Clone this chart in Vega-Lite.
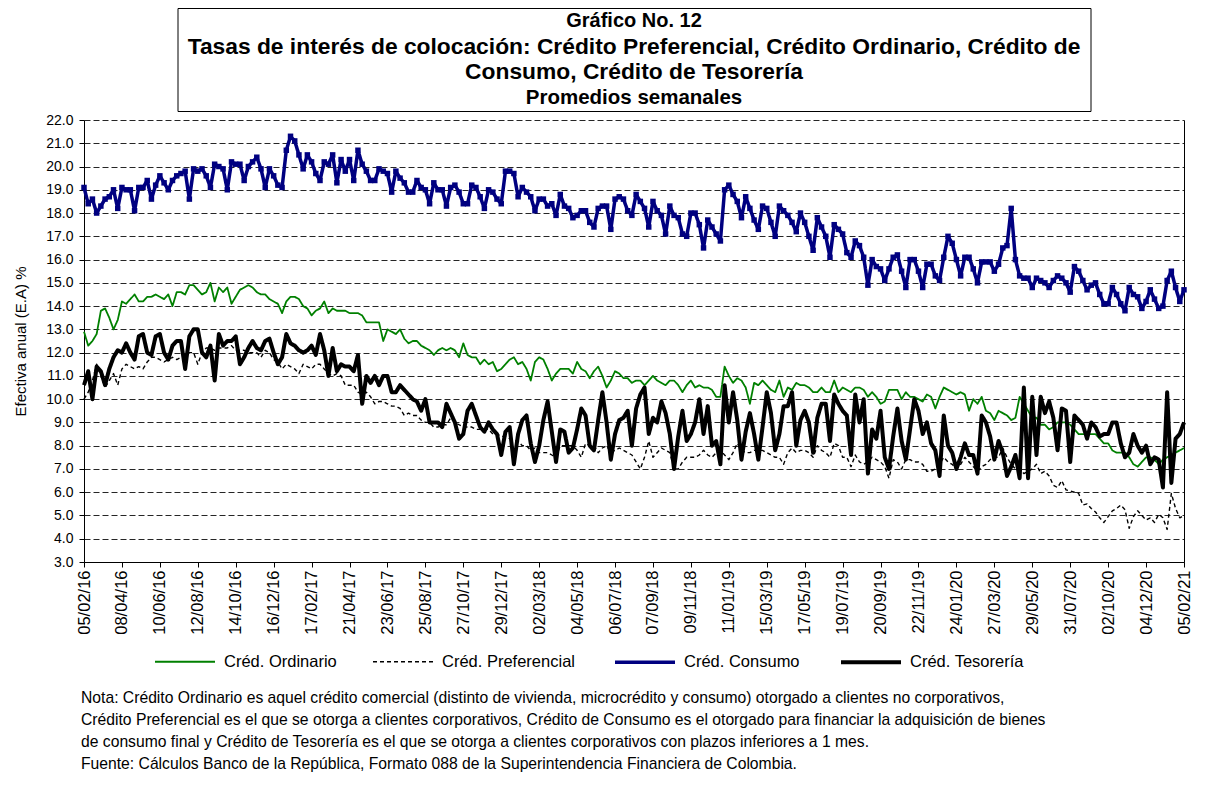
{
"$schema": "https://vega.github.io/schema/vega-lite/v6.json",
"background": "white",
"padding": {"left": 13, "top": 7, "right": 30, "bottom": 5},
"config": {"font": "Liberation Sans", "view": {"stroke": null}},
"spacing": 9,
"bounds": "flush",
"center": true,
"title": {"text": ["Nota: Crédito Ordinario es aquel crédito comercial (distinto de vivienda, microcrédito y consumo) otorgado a clientes no corporativos,", "Crédito Preferencial es el que se otorga a clientes corporativos, Crédito de Consumo es el otorgado para financiar la adquisición de bienes", "de consumo final  y Crédito de Tesorería es el que se otorga a clientes corporativos con plazos inferiores a 1 mes.", "Fuente: Cálculos Banco de la República, Formato 088 de la Superintendencia Financiera de Colombia."], "orient": "bottom", "anchor": "start", "frame": "group", "fontSize": 15.7, "fontWeight": "normal", "font": "Liberation Sans", "color": "black", "lineHeight": 22, "offset": 20, "align": "left", "dx": -3},
"vconcat": [
{
"width": 913, "height": 103,
"view": {"stroke": "black", "strokeWidth": 1},
"data": {"values": [{"line": 1, "txt": "Gráfico No. 12"}, {"line": 2, "txt": "Tasas de interés de colocación: Crédito Preferencial, Crédito Ordinario, Crédito de"}, {"line": 3, "txt": "Consumo, Crédito de Tesorería"}, {"line": 4, "txt": "Promedios semanales"}]},
"mark": {"type": "text", "fontWeight": "bold", "font": "Liberation Sans", "align": "center", "baseline": "middle", "color": "black"},
"encoding": {
"y": {"field": "line", "type": "ordinal", "axis": null, "scale": {"paddingInner": 0, "paddingOuter": 0}},
"x": {"datum": 0, "type": "quantitative", "scale": {"domain": [-1, 1]}, "axis": null},
"text": {"field": "txt"},
"yOffset": {"condition": {"test": "datum.line > 1", "value": 2.5}, "value": 0},
"size": {"condition": [{"test": "datum.line == 1", "value": 20}, {"test": "datum.line == 4", "value": 20.5}], "value": 22.8}
}
},
{
"width": 1100, "height": 442,
"data": {"format": {"parse": {"d": "utc:'%Y-%m-%d'"}}, "values": [
{"d":"2016-02-05","o":12.9,"p":10.0,"c":19.1,"t":10.6},
{"d":"2016-02-12","o":12.3,"p":10.3,"c":18.4,"t":11.2},
{"d":"2016-02-19","o":12.5,"p":10.8,"c":18.6,"t":10.0},
{"d":"2016-02-26","o":12.8,"p":11.5,"c":18.0,"t":11.4},
{"d":"2016-03-04","o":13.8,"p":11.0,"c":18.3,"t":11.2},
{"d":"2016-03-11","o":13.9,"p":10.5,"c":18.6,"t":10.6},
{"d":"2016-03-18","o":13.5,"p":10.8,"c":18.7,"t":11.3},
{"d":"2016-03-25","o":13.0,"p":11.1,"c":19.0,"t":11.8},
{"d":"2016-04-01","o":13.4,"p":10.6,"c":18.2,"t":12.1},
{"d":"2016-04-08","o":14.2,"p":11.3,"c":19.1,"t":12.0},
{"d":"2016-04-15","o":14.1,"p":11.5,"c":19.0,"t":12.4},
{"d":"2016-04-22","o":14.3,"p":11.4,"c":19.0,"t":12.0},
{"d":"2016-04-29","o":14.5,"p":11.3,"c":18.1,"t":11.7},
{"d":"2016-05-06","o":14.2,"p":11.4,"c":19.1,"t":12.7},
{"d":"2016-05-13","o":14.2,"p":11.3,"c":19.1,"t":12.8},
{"d":"2016-05-20","o":14.4,"p":11.6,"c":19.4,"t":12.0},
{"d":"2016-05-27","o":14.4,"p":11.8,"c":18.6,"t":11.9},
{"d":"2016-06-03","o":14.5,"p":11.8,"c":19.2,"t":12.7},
{"d":"2016-06-10","o":14.4,"p":11.7,"c":19.6,"t":12.8},
{"d":"2016-06-17","o":14.3,"p":11.6,"c":19.3,"t":12.0},
{"d":"2016-06-24","o":14.5,"p":11.7,"c":19.0,"t":11.7},
{"d":"2016-07-01","o":14.0,"p":11.8,"c":19.4,"t":12.3},
{"d":"2016-07-08","o":14.6,"p":11.7,"c":19.6,"t":12.5},
{"d":"2016-07-15","o":14.6,"p":11.8,"c":19.7,"t":12.5},
{"d":"2016-07-22","o":14.5,"p":11.9,"c":19.8,"t":11.3},
{"d":"2016-07-29","o":14.9,"p":12.0,"c":18.6,"t":12.7},
{"d":"2016-08-05","o":14.9,"p":12.0,"c":19.9,"t":13.0},
{"d":"2016-08-12","o":14.7,"p":11.5,"c":19.8,"t":13.0},
{"d":"2016-08-19","o":14.5,"p":12.0,"c":19.9,"t":12.0},
{"d":"2016-08-26","o":14.6,"p":12.2,"c":19.6,"t":11.8},
{"d":"2016-09-02","o":15.0,"p":12.2,"c":19.1,"t":12.3},
{"d":"2016-09-09","o":14.2,"p":12.1,"c":20.1,"t":10.8},
{"d":"2016-09-16","o":14.8,"p":12.2,"c":20.0,"t":12.8},
{"d":"2016-09-23","o":14.6,"p":12.2,"c":19.9,"t":12.3},
{"d":"2016-09-30","o":14.8,"p":12.2,"c":19.0,"t":12.5},
{"d":"2016-10-07","o":14.1,"p":12.3,"c":20.2,"t":12.5},
{"d":"2016-10-14","o":14.4,"p":12.1,"c":20.1,"t":12.7},
{"d":"2016-10-21","o":14.7,"p":12.1,"c":20.1,"t":11.5},
{"d":"2016-10-28","o":14.8,"p":12.1,"c":19.4,"t":11.8},
{"d":"2016-11-04","o":14.9,"p":12.0,"c":20.0,"t":12.2},
{"d":"2016-11-11","o":14.8,"p":12.0,"c":20.2,"t":12.5},
{"d":"2016-11-18","o":14.6,"p":12.0,"c":20.4,"t":12.2},
{"d":"2016-11-25","o":14.5,"p":11.8,"c":19.9,"t":12.1},
{"d":"2016-12-02","o":14.5,"p":12.1,"c":19.1,"t":12.5},
{"d":"2016-12-09","o":14.3,"p":12.0,"c":19.9,"t":12.6},
{"d":"2016-12-16","o":14.2,"p":11.7,"c":19.6,"t":12.0},
{"d":"2016-12-23","o":14.1,"p":11.6,"c":19.2,"t":11.5},
{"d":"2016-12-30","o":13.7,"p":11.3,"c":19.1,"t":11.8},
{"d":"2017-01-06","o":14.2,"p":11.5,"c":20.7,"t":12.8},
{"d":"2017-01-13","o":14.4,"p":11.4,"c":21.3,"t":12.4},
{"d":"2017-01-20","o":14.4,"p":11.3,"c":21.1,"t":12.3},
{"d":"2017-01-27","o":14.3,"p":11.1,"c":20.5,"t":12.1},
{"d":"2017-02-03","o":14.0,"p":11.5,"c":19.9,"t":12.0},
{"d":"2017-02-10","o":13.9,"p":11.4,"c":20.5,"t":12.1},
{"d":"2017-02-17","o":13.6,"p":11.3,"c":20.2,"t":12.3},
{"d":"2017-02-24","o":13.8,"p":11.5,"c":19.7,"t":11.9},
{"d":"2017-03-03","o":13.9,"p":11.5,"c":19.4,"t":12.8},
{"d":"2017-03-10","o":14.2,"p":11.3,"c":20.2,"t":12.1},
{"d":"2017-03-17","o":13.7,"p":11.1,"c":20.1,"t":11.0},
{"d":"2017-03-24","o":13.9,"p":11.0,"c":20.5,"t":12.2},
{"d":"2017-03-31","o":13.8,"p":11.1,"c":19.3,"t":11.2},
{"d":"2017-04-07","o":13.8,"p":11.0,"c":20.3,"t":11.5},
{"d":"2017-04-14","o":13.8,"p":10.6,"c":19.8,"t":11.4},
{"d":"2017-04-21","o":13.7,"p":10.6,"c":20.3,"t":11.4},
{"d":"2017-04-28","o":13.7,"p":10.6,"c":19.4,"t":11.2},
{"d":"2017-05-05","o":13.7,"p":10.3,"c":20.7,"t":11.9},
{"d":"2017-05-12","o":13.6,"p":10.2,"c":20.1,"t":9.8},
{"d":"2017-05-19","o":13.3,"p":10.3,"c":19.8,"t":11.0},
{"d":"2017-05-26","o":13.3,"p":10.1,"c":19.4,"t":10.7},
{"d":"2017-06-02","o":13.3,"p":9.8,"c":19.4,"t":11.0},
{"d":"2017-06-09","o":13.3,"p":9.9,"c":19.9,"t":10.6},
{"d":"2017-06-16","o":12.5,"p":9.9,"c":19.8,"t":11.0},
{"d":"2017-06-23","o":13.0,"p":9.8,"c":19.7,"t":11.0},
{"d":"2017-06-30","o":12.9,"p":9.7,"c":18.9,"t":10.3},
{"d":"2017-07-07","o":12.8,"p":9.7,"c":19.8,"t":10.3},
{"d":"2017-07-14","o":13.0,"p":9.6,"c":19.5,"t":10.6},
{"d":"2017-07-21","o":12.6,"p":9.3,"c":19.3,"t":10.4},
{"d":"2017-07-28","o":12.4,"p":9.4,"c":18.9,"t":10.2},
{"d":"2017-08-04","o":12.5,"p":9.3,"c":18.9,"t":10.0},
{"d":"2017-08-11","o":12.5,"p":9.3,"c":19.4,"t":9.9},
{"d":"2017-08-18","o":12.3,"p":9.1,"c":19.1,"t":9.5},
{"d":"2017-08-25","o":12.2,"p":9.0,"c":19.0,"t":10.0},
{"d":"2017-09-01","o":12.1,"p":9.0,"c":18.4,"t":9.0},
{"d":"2017-09-08","o":11.9,"p":8.8,"c":19.3,"t":9.0},
{"d":"2017-09-15","o":12.1,"p":8.8,"c":19.0,"t":9.0},
{"d":"2017-09-22","o":12.2,"p":8.9,"c":19.0,"t":8.8},
{"d":"2017-09-29","o":12.1,"p":8.9,"c":18.3,"t":9.8},
{"d":"2017-10-06","o":12.2,"p":9.2,"c":19.1,"t":9.4},
{"d":"2017-10-13","o":12.1,"p":9.0,"c":19.2,"t":9.0},
{"d":"2017-10-20","o":11.8,"p":8.9,"c":18.9,"t":8.3},
{"d":"2017-10-27","o":12.4,"p":8.8,"c":18.4,"t":8.5},
{"d":"2017-11-03","o":11.9,"p":8.8,"c":18.4,"t":9.5},
{"d":"2017-11-10","o":11.8,"p":8.8,"c":19.2,"t":9.8},
{"d":"2017-11-17","o":11.8,"p":8.7,"c":19.1,"t":9.3},
{"d":"2017-11-24","o":11.5,"p":8.7,"c":18.7,"t":8.8},
{"d":"2017-12-01","o":11.7,"p":8.7,"c":18.2,"t":8.6},
{"d":"2017-12-08","o":11.5,"p":8.7,"c":19.0,"t":9.0},
{"d":"2017-12-15","o":11.6,"p":8.5,"c":18.9,"t":8.7},
{"d":"2017-12-22","o":11.2,"p":8.5,"c":18.6,"t":8.5},
{"d":"2017-12-29","o":11.3,"p":8.4,"c":18.4,"t":7.6},
{"d":"2018-01-05","o":11.5,"p":8.4,"c":19.8,"t":8.6},
{"d":"2018-01-12","o":11.7,"p":8.3,"c":19.8,"t":8.8},
{"d":"2018-01-19","o":11.8,"p":8.2,"c":19.7,"t":7.2},
{"d":"2018-01-26","o":11.5,"p":8.2,"c":18.7,"t":8.5},
{"d":"2018-02-02","o":11.6,"p":8.0,"c":19.1,"t":9.1},
{"d":"2018-02-09","o":11.3,"p":8.0,"c":18.9,"t":9.3},
{"d":"2018-02-16","o":10.8,"p":7.8,"c":18.7,"t":8.1},
{"d":"2018-02-23","o":11.6,"p":7.9,"c":18.1,"t":7.3},
{"d":"2018-03-02","o":11.8,"p":7.7,"c":18.6,"t":8.0},
{"d":"2018-03-09","o":11.7,"p":7.7,"c":18.6,"t":9.1},
{"d":"2018-03-16","o":11.3,"p":7.7,"c":18.3,"t":9.9},
{"d":"2018-03-23","o":10.8,"p":7.6,"c":18.4,"t":8.6},
{"d":"2018-03-30","o":11.1,"p":7.5,"c":17.9,"t":7.3},
{"d":"2018-04-06","o":11.3,"p":8.0,"c":18.8,"t":8.7},
{"d":"2018-04-13","o":11.3,"p":8.0,"c":18.3,"t":8.6},
{"d":"2018-04-20","o":11.3,"p":8.0,"c":18.2,"t":7.7},
{"d":"2018-04-27","o":11.1,"p":8.0,"c":17.8,"t":7.9},
{"d":"2018-05-04","o":11.6,"p":7.8,"c":17.9,"t":8.7},
{"d":"2018-05-11","o":11.3,"p":7.5,"c":18.1,"t":9.6},
{"d":"2018-05-18","o":11.2,"p":8.1,"c":18.1,"t":9.3},
{"d":"2018-05-25","o":10.9,"p":8.0,"c":17.6,"t":8.0},
{"d":"2018-06-01","o":11.2,"p":8.0,"c":17.4,"t":7.8},
{"d":"2018-06-08","o":11.4,"p":7.7,"c":18.2,"t":9.1},
{"d":"2018-06-15","o":11.0,"p":7.9,"c":18.3,"t":10.3},
{"d":"2018-06-22","o":10.5,"p":8.0,"c":18.3,"t":9.0},
{"d":"2018-06-29","o":10.8,"p":7.7,"c":17.3,"t":7.4},
{"d":"2018-07-06","o":11.2,"p":7.8,"c":18.6,"t":8.5},
{"d":"2018-07-13","o":11.1,"p":7.9,"c":18.7,"t":9.1},
{"d":"2018-07-20","o":10.9,"p":7.8,"c":18.6,"t":9.2},
{"d":"2018-07-27","o":10.9,"p":7.7,"c":18.1,"t":9.5},
{"d":"2018-08-03","o":10.7,"p":7.6,"c":17.9,"t":8.0},
{"d":"2018-08-10","o":10.8,"p":7.3,"c":18.8,"t":9.6},
{"d":"2018-08-17","o":10.8,"p":7.0,"c":18.5,"t":10.2},
{"d":"2018-08-24","o":10.6,"p":7.5,"c":18.2,"t":10.5},
{"d":"2018-08-31","o":10.8,"p":8.2,"c":17.4,"t":8.5},
{"d":"2018-09-07","o":11.0,"p":7.5,"c":18.5,"t":9.2},
{"d":"2018-09-14","o":10.8,"p":7.7,"c":18.1,"t":9.0},
{"d":"2018-09-21","o":10.7,"p":7.9,"c":17.9,"t":9.9},
{"d":"2018-09-28","o":10.6,"p":7.8,"c":17.1,"t":9.4},
{"d":"2018-10-05","o":10.8,"p":7.7,"c":18.3,"t":8.5},
{"d":"2018-10-12","o":10.8,"p":7.0,"c":17.9,"t":7.0},
{"d":"2018-10-19","o":10.6,"p":7.0,"c":17.8,"t":8.4},
{"d":"2018-10-26","o":10.3,"p":7.3,"c":17.1,"t":9.5},
{"d":"2018-11-02","o":10.6,"p":7.5,"c":17.0,"t":8.2},
{"d":"2018-11-09","o":10.8,"p":7.5,"c":18.0,"t":8.5},
{"d":"2018-11-16","o":10.5,"p":7.5,"c":18.0,"t":9.0},
{"d":"2018-11-23","o":10.6,"p":7.6,"c":17.5,"t":10.0},
{"d":"2018-11-30","o":10.5,"p":7.8,"c":16.5,"t":8.5},
{"d":"2018-12-07","o":10.5,"p":7.6,"c":17.7,"t":9.7},
{"d":"2018-12-14","o":10.4,"p":7.5,"c":17.4,"t":8.0},
{"d":"2018-12-21","o":10.1,"p":7.7,"c":17.1,"t":8.2},
{"d":"2018-12-28","o":10.1,"p":7.8,"c":16.8,"t":7.2},
{"d":"2019-01-04","o":11.4,"p":7.6,"c":19.0,"t":10.6},
{"d":"2019-01-11","o":11.0,"p":7.4,"c":19.2,"t":9.0},
{"d":"2019-01-18","o":10.7,"p":7.7,"c":18.8,"t":10.3},
{"d":"2019-01-25","o":10.9,"p":8.1,"c":18.5,"t":9.1},
{"d":"2019-02-01","o":10.8,"p":7.8,"c":17.8,"t":7.4},
{"d":"2019-02-08","o":10.5,"p":7.7,"c":18.7,"t":8.6},
{"d":"2019-02-15","o":9.8,"p":7.7,"c":18.2,"t":9.4},
{"d":"2019-02-22","o":10.7,"p":7.8,"c":17.7,"t":8.5},
{"d":"2019-03-01","o":10.6,"p":7.8,"c":17.3,"t":7.4},
{"d":"2019-03-08","o":10.8,"p":7.8,"c":18.3,"t":8.8},
{"d":"2019-03-15","o":10.6,"p":7.7,"c":18.2,"t":10.3},
{"d":"2019-03-22","o":10.4,"p":7.6,"c":17.6,"t":9.4},
{"d":"2019-03-29","o":10.3,"p":7.5,"c":17.0,"t":7.8},
{"d":"2019-04-05","o":10.8,"p":7.5,"c":18.3,"t":8.5},
{"d":"2019-04-12","o":10.1,"p":7.2,"c":18.1,"t":9.7},
{"d":"2019-04-19","o":10.5,"p":7.7,"c":17.9,"t":9.7},
{"d":"2019-04-26","o":10.4,"p":7.9,"c":17.6,"t":10.3},
{"d":"2019-05-03","o":10.7,"p":7.7,"c":17.2,"t":8.0},
{"d":"2019-05-10","o":10.6,"p":7.8,"c":18.0,"t":9.1},
{"d":"2019-05-17","o":10.6,"p":7.8,"c":17.6,"t":9.5},
{"d":"2019-05-24","o":10.5,"p":7.7,"c":17.0,"t":9.0},
{"d":"2019-05-31","o":10.3,"p":7.5,"c":16.4,"t":7.7},
{"d":"2019-06-07","o":10.3,"p":8.0,"c":17.8,"t":9.2},
{"d":"2019-06-14","o":10.5,"p":7.8,"c":17.4,"t":9.8},
{"d":"2019-06-21","o":10.3,"p":7.7,"c":17.0,"t":9.8},
{"d":"2019-06-28","o":10.3,"p":7.5,"c":16.1,"t":8.2},
{"d":"2019-07-05","o":10.8,"p":8.1,"c":17.5,"t":10.2},
{"d":"2019-07-12","o":10.3,"p":8.0,"c":17.3,"t":9.8},
{"d":"2019-07-19","o":10.5,"p":7.5,"c":17.1,"t":9.5},
{"d":"2019-07-26","o":10.4,"p":7.5,"c":16.3,"t":9.3},
{"d":"2019-08-02","o":10.3,"p":7.1,"c":16.1,"t":7.6},
{"d":"2019-08-09","o":10.5,"p":7.6,"c":16.8,"t":10.2},
{"d":"2019-08-16","o":10.5,"p":7.3,"c":16.6,"t":9.0},
{"d":"2019-08-23","o":10.4,"p":7.2,"c":16.1,"t":10.0},
{"d":"2019-08-30","o":10.1,"p":7.3,"c":14.9,"t":6.8},
{"d":"2019-09-06","o":10.3,"p":7.5,"c":16.0,"t":8.7},
{"d":"2019-09-13","o":10.1,"p":7.4,"c":15.7,"t":8.3},
{"d":"2019-09-20","o":9.8,"p":7.3,"c":15.6,"t":9.5},
{"d":"2019-09-27","o":9.9,"p":7.1,"c":15.1,"t":7.5},
{"d":"2019-10-04","o":10.4,"p":6.6,"c":15.6,"t":7.0},
{"d":"2019-10-11","o":10.4,"p":7.4,"c":16.1,"t":8.4},
{"d":"2019-10-18","o":10.4,"p":7.3,"c":16.2,"t":9.6},
{"d":"2019-10-25","o":10.0,"p":7.0,"c":15.5,"t":8.2},
{"d":"2019-11-01","o":10.3,"p":7.4,"c":14.8,"t":7.4},
{"d":"2019-11-08","o":10.1,"p":7.4,"c":16.0,"t":8.7},
{"d":"2019-11-15","o":10.1,"p":7.3,"c":16.0,"t":10.0},
{"d":"2019-11-22","o":10.0,"p":7.3,"c":15.5,"t":9.5},
{"d":"2019-11-29","o":9.9,"p":7.2,"c":14.8,"t":8.5},
{"d":"2019-12-06","o":10.2,"p":6.9,"c":15.8,"t":9.0},
{"d":"2019-12-13","o":10.1,"p":6.9,"c":15.8,"t":8.1},
{"d":"2019-12-20","o":9.6,"p":7.0,"c":15.3,"t":7.8},
{"d":"2019-12-27","o":10.1,"p":7.2,"c":15.1,"t":6.7},
{"d":"2020-01-03","o":10.5,"p":7.5,"c":16.1,"t":9.3},
{"d":"2020-01-10","o":10.4,"p":7.3,"c":17.0,"t":8.0},
{"d":"2020-01-17","o":10.3,"p":7.2,"c":16.7,"t":7.7},
{"d":"2020-01-24","o":10.2,"p":7.0,"c":16.0,"t":7.0},
{"d":"2020-01-31","o":10.3,"p":7.2,"c":15.3,"t":7.5},
{"d":"2020-02-07","o":10.2,"p":7.5,"c":16.1,"t":8.1},
{"d":"2020-02-14","o":9.5,"p":7.3,"c":16.1,"t":7.6},
{"d":"2020-02-21","o":10.0,"p":7.1,"c":15.6,"t":7.6},
{"d":"2020-02-28","o":9.8,"p":6.9,"c":15.0,"t":6.8},
{"d":"2020-03-06","o":10.1,"p":7.1,"c":15.9,"t":9.3},
{"d":"2020-03-13","o":9.5,"p":7.2,"c":15.9,"t":9.0},
{"d":"2020-03-20","o":9.4,"p":7.4,"c":15.9,"t":8.4},
{"d":"2020-03-27","o":9.1,"p":7.5,"c":15.5,"t":7.4},
{"d":"2020-04-03","o":9.5,"p":7.5,"c":15.8,"t":8.2},
{"d":"2020-04-10","o":9.4,"p":7.9,"c":16.5,"t":7.7},
{"d":"2020-04-17","o":9.3,"p":7.5,"c":16.6,"t":6.7},
{"d":"2020-04-24","o":9.1,"p":7.2,"c":18.2,"t":7.1},
{"d":"2020-05-01","o":9.2,"p":7.0,"c":16.0,"t":7.6},
{"d":"2020-05-08","o":10.1,"p":7.0,"c":15.3,"t":6.6},
{"d":"2020-05-15","o":9.8,"p":6.8,"c":15.2,"t":10.5},
{"d":"2020-05-22","o":9.5,"p":6.9,"c":15.2,"t":6.6},
{"d":"2020-05-29","o":9.2,"p":7.0,"c":14.8,"t":10.1},
{"d":"2020-06-05","o":9.2,"p":7.2,"c":15.2,"t":7.6},
{"d":"2020-06-12","o":8.9,"p":6.8,"c":15.1,"t":10.1},
{"d":"2020-06-19","o":8.9,"p":6.9,"c":15.0,"t":9.4},
{"d":"2020-06-26","o":8.7,"p":6.7,"c":14.8,"t":9.9},
{"d":"2020-07-03","o":8.8,"p":6.3,"c":15.1,"t":9.2},
{"d":"2020-07-10","o":9.0,"p":6.2,"c":15.3,"t":7.8},
{"d":"2020-07-17","o":9.0,"p":6.5,"c":15.2,"t":9.6},
{"d":"2020-07-24","o":9.0,"p":6.1,"c":15.0,"t":9.5},
{"d":"2020-07-31","o":8.9,"p":6.05,"c":14.6,"t":7.3},
{"d":"2020-08-07","o":8.7,"p":6.0,"c":15.7,"t":9.3},
{"d":"2020-08-14","o":8.5,"p":5.95,"c":15.5,"t":9.1},
{"d":"2020-08-21","o":8.5,"p":5.45,"c":15.1,"t":8.9},
{"d":"2020-08-28","o":8.5,"p":5.5,"c":14.7,"t":8.3},
{"d":"2020-09-04","o":8.5,"p":5.3,"c":14.9,"t":9.0},
{"d":"2020-09-11","o":8.5,"p":5.15,"c":15.0,"t":8.8},
{"d":"2020-09-18","o":8.3,"p":4.9,"c":14.5,"t":8.4},
{"d":"2020-09-25","o":8.1,"p":4.7,"c":14.1,"t":8.5},
{"d":"2020-10-02","o":8.1,"p":4.95,"c":14.1,"t":8.5},
{"d":"2020-10-09","o":7.8,"p":5.2,"c":14.8,"t":9.0},
{"d":"2020-10-16","o":7.7,"p":5.3,"c":14.5,"t":9.0},
{"d":"2020-10-23","o":7.7,"p":5.45,"c":14.1,"t":8.1},
{"d":"2020-10-30","o":7.7,"p":5.25,"c":13.8,"t":7.5},
{"d":"2020-11-06","o":7.5,"p":4.45,"c":14.8,"t":7.7},
{"d":"2020-11-13","o":7.2,"p":4.95,"c":14.5,"t":8.5},
{"d":"2020-11-20","o":7.1,"p":5.2,"c":14.4,"t":8.0},
{"d":"2020-11-27","o":7.3,"p":5.0,"c":13.9,"t":7.7},
{"d":"2020-12-04","o":7.5,"p":4.8,"c":14.2,"t":8.0},
{"d":"2020-12-11","o":7.5,"p":4.9,"c":14.7,"t":7.2},
{"d":"2020-12-18","o":7.4,"p":4.7,"c":14.3,"t":7.5},
{"d":"2020-12-25","o":7.2,"p":5.05,"c":13.9,"t":7.4},
{"d":"2021-01-01","o":7.4,"p":4.9,"c":14.0,"t":6.2},
{"d":"2021-01-08","o":7.5,"p":4.4,"c":15.1,"t":10.3},
{"d":"2021-01-15","o":7.6,"p":5.95,"c":15.5,"t":6.4},
{"d":"2021-01-22","o":7.7,"p":5.3,"c":14.8,"t":8.3},
{"d":"2021-01-29","o":7.8,"p":4.9,"c":14.2,"t":8.5},
{"d":"2021-02-05","o":7.9,"p":5.0,"c":14.7,"t":9.0}
]},
"transform": [{"fold": ["o", "p", "c", "t"], "as": ["serie", "v"]}],
"encoding": {
"x": {"field": "d", "type": "temporal",
 "scale": {"type": "utc", "domain": [{"year": 2016, "month": 2, "date": 5, "utc": true}, {"year": 2021, "month": 2, "date": 5, "utc": true}]},
 "axis": {"values": [
 {"year":2016,"month":2,"date":5,"utc":true},{"year":2016,"month":4,"date":8,"utc":true},{"year":2016,"month":6,"date":10,"utc":true},{"year":2016,"month":8,"date":12,"utc":true},{"year":2016,"month":10,"date":14,"utc":true},{"year":2016,"month":12,"date":16,"utc":true},
 {"year":2017,"month":2,"date":17,"utc":true},{"year":2017,"month":4,"date":21,"utc":true},{"year":2017,"month":6,"date":23,"utc":true},{"year":2017,"month":8,"date":25,"utc":true},{"year":2017,"month":10,"date":27,"utc":true},{"year":2017,"month":12,"date":29,"utc":true},
 {"year":2018,"month":3,"date":2,"utc":true},{"year":2018,"month":5,"date":4,"utc":true},{"year":2018,"month":7,"date":6,"utc":true},{"year":2018,"month":9,"date":7,"utc":true},{"year":2018,"month":11,"date":9,"utc":true},
 {"year":2019,"month":1,"date":11,"utc":true},{"year":2019,"month":3,"date":15,"utc":true},{"year":2019,"month":5,"date":17,"utc":true},{"year":2019,"month":7,"date":19,"utc":true},{"year":2019,"month":9,"date":20,"utc":true},{"year":2019,"month":11,"date":22,"utc":true},
 {"year":2020,"month":1,"date":24,"utc":true},{"year":2020,"month":3,"date":27,"utc":true},{"year":2020,"month":5,"date":29,"utc":true},{"year":2020,"month":7,"date":31,"utc":true},{"year":2020,"month":10,"date":2,"utc":true},{"year":2020,"month":12,"date":4,"utc":true},
 {"year":2021,"month":2,"date":5,"utc":true}],
 "labelExpr": "utcFormat(datum.value, '%d/%m/%y')", "labelAngle": -90, "labelFontSize": 16.5, "labelColor": "black", "labelPadding": 3, "tickColor": "black", "tickSize": 5, "domainColor": "black", "grid": false, "title": null, "labelFlush": false, "labelOverlap": false, "labelBound": false}},
"y": {"field": "v", "type": "quantitative", "scale": {"domain": [3, 22], "nice": false, "zero": false},
 "axis": {"values": [3,4,5,6,7,8,9,10,11,12,13,14,15,16,17,18,19,20,21,22], "labelExpr": "format(datum.value, '.1f')", "labelOverlap": false, "labelFontSize": 14, "labelColor": "black", "labelPadding": 6, "title": "Efectiva anual (E.A) %", "titleFontSize": 15, "titleFontWeight": "normal", "titleColor": "black", "titlePadding": 17, "gridColor": "black", "gridDash": [6, 3], "gridOpacity": 0.85, "tickColor": "black", "tickSize": 5, "domainColor": "black"}}
},
"layer": [
{
"mark": {"type": "line", "strokeJoin": "round"},
"encoding": {
"color": {"field": "serie", "type": "nominal",
 "scale": {"domain": ["o", "p", "c", "t"], "range": ["#008000", "#000000", "#000080", "#000000"]},
 "legend": {"orient": "none", "legendX": 69, "legendY": 622, "direction": "horizontal", "columns": 4, "title": null, "symbolType": "stroke", "symbolSize": 3600, "labelFontSize": 16.5, "labelFont": "Liberation Sans", "labelColor": "black", "labelOffset": 7, "columnPadding": 33,
 "labelExpr": "{'o': 'Créd. Ordinario', 'p': 'Créd. Preferencial', 'c': 'Créd. Consumo', 't': 'Créd. Tesorería'}[datum.label]"}},
"strokeDash": {"field": "serie", "type": "nominal", "scale": {"domain": ["o", "p", "c", "t"], "range": [[1, 0], [4, 3], [1, 0], [1, 0]]}},
"strokeWidth": {"field": "serie", "type": "nominal", "scale": {"type": "ordinal", "domain": ["o", "p", "c", "t"], "range": [1.8, 1.4, 3.5, 4]}}
}
},
{
"transform": [{"filter": "datum.serie == 'c'"}],
"mark": {"type": "point", "shape": "square", "filled": true, "size": 30, "color": "#000080", "opacity": 1},
"encoding": {
"y": {"field": "v", "type": "quantitative", "axis": {"orient": "right", "labels": false, "ticks": false, "grid": false, "title": null, "domain": true, "domainColor": "black"}}
}
}
],
"resolve": {"axis": {"y": "independent"}}
}
]
}
